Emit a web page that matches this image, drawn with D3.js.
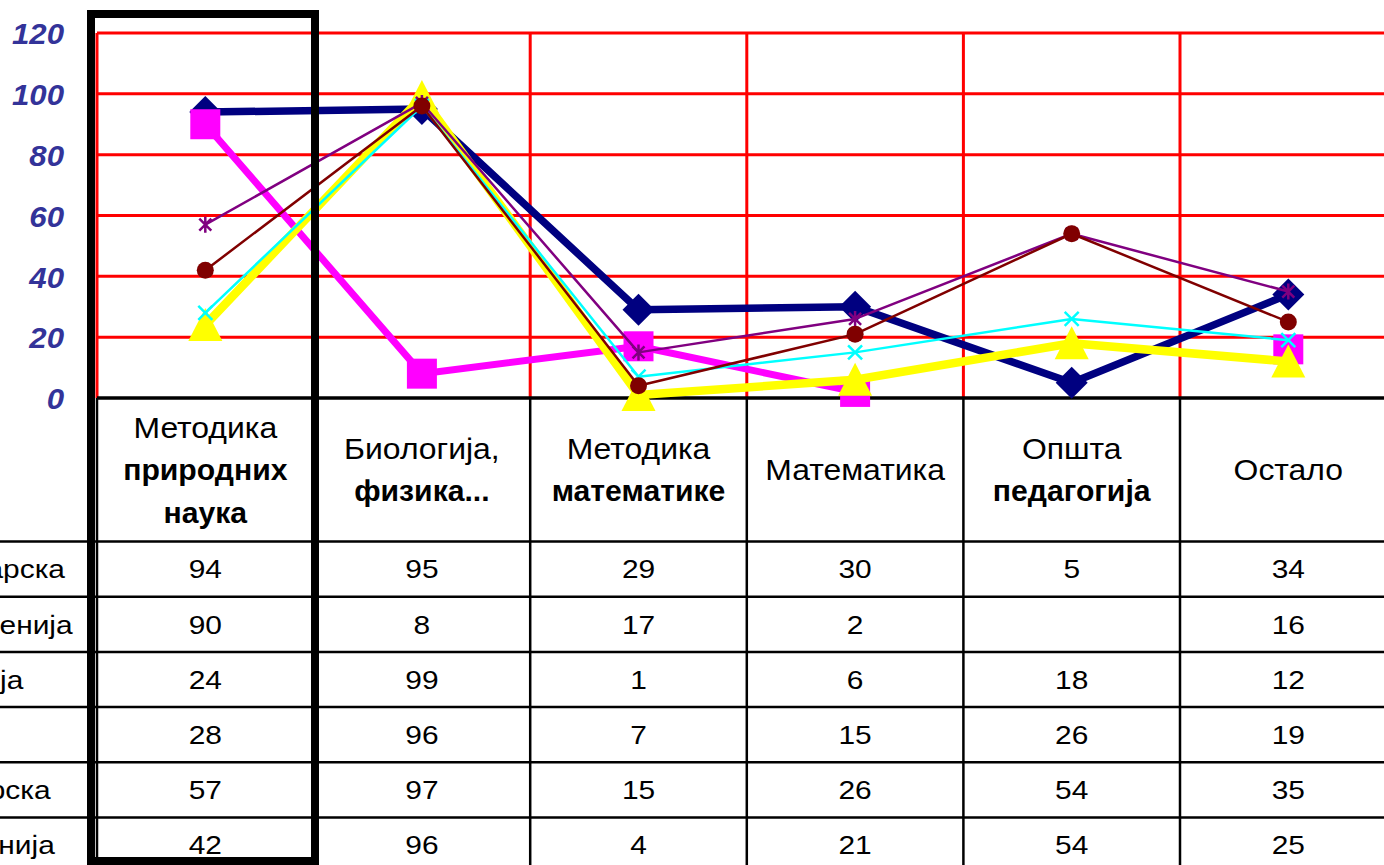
<!DOCTYPE html>
<html>
<head>
<meta charset="utf-8">
<script src="https://cdn.jsdelivr.net/npm/d3@7"></script>
<style>
  html, body { margin: 0; padding: 0; background: #fff; overflow: hidden; }
  svg { display: block; }
</style>
</head>
<body>
<div id="chart"></div>
<script>
// Data
var categories = [
  ["Методика", "природних", "наука"],
  ["Биологија,", "физика..."],
  ["Методика", "математике"],
  ["Математика"],
  ["Општа", "педагогија"],
  ["Остало"]
];
var boldFrom = [1, 1, 1, 99, 1, 99];   // index of the first bold line in each header

var rowNames = ["Мађарска", "Словенија", "Србија", "БиХ", "Бугарска", "Румунија"];

var s1 = [94, 95, 29, 30, 5, 34];
var s2 = [90, 8, 17, 2, null, 16];
var s3 = [24, 99, 1, 6, 18, 12];
var s4 = [28, 96, 7, 15, 26, 19];
var s5 = [57, 97, 15, 26, 54, 35];
var s6 = [42, 96, 4, 21, 54, 25];

var yTicks = [0, 20, 40, 60, 80, 100, 120];

var seriesValues = [s1, s2, s3, s4, s5, s6];
var seriesStyle = [
  { color: "#000080", width: 7.5, marker: "diamond" },
  { color: "#ff00ff", width: 7,   marker: "square" },
  { color: "#ffff00", width: 8.5, marker: "triangle" },
  { color: "#00ffff", width: 2.5, marker: "x" },
  { color: "#800080", width: 2.5, marker: "star" },
  { color: "#800000", width: 2.5, marker: "circle" }
];

var W = 1384, H = 865;
var plotLeft = 97, plotTop = 33, zeroY = 398;
var colW = 216.6;
var headerBottom = 541.5, rowH = 55.2;
var font = "'Liberation Sans', Arial, sans-serif";

var svg = d3.select("#chart").append("svg")
  .attr("width", W)
  .attr("height", H);

var x = d3.scaleBand()
  .domain(d3.range(categories.length))
  .range([plotLeft, plotLeft + colW * categories.length]);

var y = d3.scaleLinear()
  .domain([0, 120])
  .range([zeroY, plotTop]);

// red grid
var grid = svg.append("g");
grid.selectAll("line.h").data(yTicks.filter(function(d) { return d > 0; })).enter()
  .append("line")
  .attr("x1", plotLeft).attr("x2", W + 20)
  .attr("y1", function(d) { return y(d); })
  .attr("y2", function(d) { return y(d); })
  .attr("stroke", "#ff0000").attr("stroke-width", 3);
grid.selectAll("line.v").data(d3.range(categories.length + 1)).enter()
  .append("line")
  .attr("x1", function(i) { return plotLeft + i * x.bandwidth(); })
  .attr("x2", function(i) { return plotLeft + i * x.bandwidth(); })
  .attr("y1", plotTop).attr("y2", zeroY)
  .attr("stroke", "#ff0000").attr("stroke-width", 3);

// y axis labels
var yAxis = d3.axisLeft(y).tickValues(yTicks).tickSize(0).tickPadding(0);
var gy = svg.append("g").attr("transform", "translate(64,0)").call(yAxis);
gy.select(".domain").remove();
gy.selectAll("text")
  .attr("font-family", font)
  .attr("font-size", 30)
  .attr("font-weight", "bold")
  .attr("font-style", "italic")
  .attr("fill", "#333399")
  .attr("dy", "0.36em")
  .attr("transform", "scale(1.04,1)");

// data table
var table = svg.append("g");
var rowLines = d3.range(rowNames.length + 1).map(function(i) { return headerBottom + i * rowH; });
table.selectAll("line.r").data(rowLines).enter()
  .append("line")
  .attr("x1", 0).attr("x2", W)
  .attr("y1", function(d) { return d; }).attr("y2", function(d) { return d; })
  .attr("stroke", "#000").attr("stroke-width", 2.5);
table.selectAll("line.c").data(d3.range(categories.length + 1)).enter()
  .append("line")
  .attr("x1", function(i) { return plotLeft + i * x.bandwidth(); })
  .attr("x2", function(i) { return plotLeft + i * x.bandwidth(); })
  .attr("y1", zeroY).attr("y2", H)
  .attr("stroke", "#000").attr("stroke-width", 2.5);
table.append("line")
  .attr("x1", plotLeft).attr("x2", W)
  .attr("y1", zeroY).attr("y2", zeroY)
  .attr("stroke", "#000").attr("stroke-width", 3.5);

function stretchedText(g, tx, ty, str, anchor, bold, size, sx) {
  g.append("text")
    .attr("transform", "translate(" + tx + "," + ty + ") scale(" + sx + ",1)")
    .attr("text-anchor", anchor)
    .attr("dy", "0.36em")
    .attr("font-family", font)
    .attr("font-size", size)
    .attr("font-weight", bold ? "bold" : "normal")
    .attr("fill", "#000")
    .text(str);
}

// header cells
var headMid = (zeroY + headerBottom) / 2, lineGap = 42.5;
categories.forEach(function(lines, i) {
  var cx = x(i) + x.bandwidth() / 2;
  lines.forEach(function(t, k) {
    var cy = headMid + (k - (lines.length - 1) / 2) * lineGap;
    var bold = k >= boldFrom[i];
    stretchedText(table, cx, cy, t, "middle", bold, 29, bold ? 1.04 : 1.1);
  });
});

// value cells and row names
seriesValues.forEach(function(vals, r) {
  var cy = headerBottom + r * rowH + rowH / 2;
  vals.forEach(function(v, i) {
    if (v === null) return;
    stretchedText(table, x(i) + x.bandwidth() / 2, cy, String(v), "middle", false, 26, 1.15);
  });
  stretchedText(table, -72, cy, rowNames[r], "start", false, 26, 1.15);
});

// series
var markerPath = {
  diamond: "M0,-16L16,0L0,16L-16,0Z",
  square: "M-15,-15H15V15H-15Z",
  triangle: "M0,-17L17,16L-17,16Z",
  x: "M-7,-7L7,7M7,-7L-7,7",
  star: "M-6,-6L6,6M6,-6L-6,6M0,-8V8"
};

var line = d3.line()
  .defined(function(d) { return d !== null; })
  .x(function(d, i) { return x(i) + x.bandwidth() / 2; })
  .y(function(d) { return y(d); });

seriesValues.forEach(function(vals, s) {
  var st = seriesStyle[s];
  var g = svg.append("g");
  g.append("path")
    .datum(vals)
    .attr("d", line)
    .attr("fill", "none")
    .attr("stroke", st.color)
    .attr("stroke-width", st.width)
    .attr("stroke-linejoin", "round");
  var pts = vals.map(function(v, i) { return { v: v, i: i }; })
    .filter(function(p) { return p.v !== null; });
  pts.forEach(function(p) {
    var px = x(p.i) + x.bandwidth() / 2, py = y(p.v);
    if (st.marker === "circle") {
      g.append("circle").attr("cx", px).attr("cy", py).attr("r", 8.5).attr("fill", st.color);
    } else if (st.marker === "x" || st.marker === "star") {
      g.append("path").attr("d", markerPath[st.marker])
        .attr("transform", "translate(" + px + "," + py + ")")
        .attr("fill", "none").attr("stroke", st.color).attr("stroke-width", 2.5);
    } else {
      g.append("path").attr("d", markerPath[st.marker])
        .attr("transform", "translate(" + px + "," + py + ")")
        .attr("fill", st.color);
    }
  });
});

// highlight frame around the first column
svg.append("rect")
  .attr("x", x(0) - 6).attr("y", 14)
  .attr("width", x.bandwidth() + 7.4)
  .attr("height", 847)
  .attr("fill", "none")
  .attr("stroke", "#000")
  .attr("stroke-width", 8);
</script>
</body>
</html>
